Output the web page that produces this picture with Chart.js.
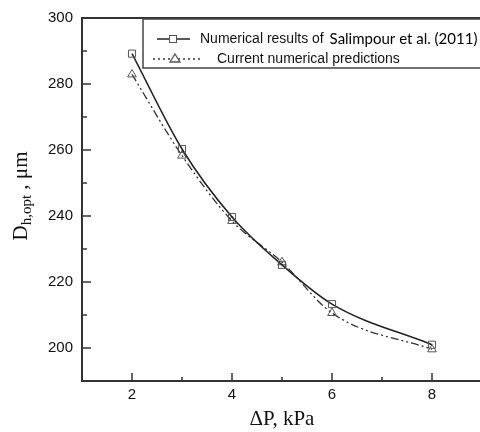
<!DOCTYPE html>
<html>
<head>
<meta charset="utf-8">
<script src="https://cdn.jsdelivr.net/npm/chart.js@4/dist/chart.umd.min.js"></script>
<style>
  html, body { margin: 0; padding: 0; background: #fff; overflow: hidden; }
  #wrap { width: 500px; height: 432px; }
</style>
</head>
<body>
<div id="wrap"><canvas id="myChart" width="500" height="432"></canvas></div>
<script>
// pressure drop, kPa
var deltaP = [2, 3, 4, 5, 6, 8];
// Salimpour et al. (2011)
var salimpour = [289.2, 260.3, 239.7, 225.2, 213.3, 201.0];
// current numerical predictions
var current = [282.9, 258.3, 238.5, 226.0, 210.6, 199.6];

var legendLabels = ['Numerical results of ', 'Salimpour et al. (2011)', 'Current numerical predictions'];
var xTitle = '\u0394P, kPa';

function toPoints(xs, ys) {
    return xs.map(function (x, i) { return { x: x, y: ys[i] }; });
}

var axisColor = '#333';
var tickFont = { family: '"Liberation Sans", Arial, sans-serif', size: 15 };

// inner ticks, top frame, legend box and axis titles
var decorations = {
    id: 'decorations',
    afterDraw: function (chart) {
        const ctx = chart.ctx;
        const area = chart.chartArea;
        const xs = chart.scales.x;
        const ys = chart.scales.y;
        ctx.save();
        ctx.strokeStyle = axisColor;
        ctx.lineWidth = 2;
        ctx.beginPath();
        ctx.moveTo(area.left, area.top);
        ctx.lineTo(area.right, area.top);
        ctx.stroke();

        ctx.lineWidth = 1.5;
        for (let v = 2; v <= 8; v++) {
            const px = xs.getPixelForValue(v);
            const len = v % 2 === 0 ? 8 : 4;
            ctx.beginPath();
            ctx.moveTo(px, area.bottom);
            ctx.lineTo(px, area.bottom - len);
            ctx.stroke();
        }
        for (let v = 200; v < 300; v += 10) {
            const py = ys.getPixelForValue(v);
            const len = v % 20 === 0 ? 9 : 5;
            ctx.beginPath();
            ctx.moveTo(area.left, py);
            ctx.lineTo(area.left + len, py);
            ctx.stroke();
        }

        // legend
        ctx.fillStyle = '#fff';
        ctx.fillRect(143, 19, 400, 49);
        ctx.strokeStyle = '#444';
        ctx.lineWidth = 1.5;
        ctx.strokeRect(143, 19, 400, 49);

        ctx.strokeStyle = '#222';
        ctx.lineWidth = 1.5;
        ctx.setLineDash([]);
        ctx.beginPath();
        ctx.moveTo(157, 39);
        ctx.lineTo(190, 39);
        ctx.stroke();
        ctx.fillStyle = '#fff';
        ctx.strokeStyle = '#555';
        ctx.lineWidth = 1;
        ctx.fillRect(169.5, 35.5, 7, 7);
        ctx.strokeRect(169.5, 35.5, 7, 7);

        ctx.strokeStyle = '#333';
        ctx.lineWidth = 1.3;
        ctx.setLineDash([2, 3]);
        ctx.beginPath();
        ctx.moveTo(153, 59);
        ctx.lineTo(200, 59);
        ctx.stroke();
        ctx.setLineDash([]);
        ctx.strokeStyle = '#555';
        ctx.fillStyle = '#fff';
        ctx.beginPath();
        ctx.moveTo(175, 54);
        ctx.lineTo(180, 62);
        ctx.lineTo(170, 62);
        ctx.closePath();
        ctx.fill();
        ctx.stroke();

        ctx.fillStyle = '#111';
        ctx.textBaseline = 'middle';
        ctx.textAlign = 'left';
        ctx.font = '14px "Liberation Sans", Arial, sans-serif';
        ctx.fillText(legendLabels[0], 200, 39);
        const w0 = ctx.measureText(legendLabels[0]).width;
        ctx.fillStyle = '#000';
        ctx.font = '15px Lato, "Open Sans", sans-serif';
        ctx.fillText(legendLabels[1], 200 + w0 + 2, 39);
        ctx.fillStyle = '#111';
        ctx.font = '14px "Liberation Sans", Arial, sans-serif';
        ctx.fillText(legendLabels[2], 217, 59);

        // x title
        ctx.font = '21px "Liberation Serif", "Times New Roman", serif';
        ctx.textAlign = 'center';
        ctx.textBaseline = 'alphabetic';
        ctx.fillText(xTitle, (area.left + area.right) / 2, 425);

        // y title with subscript
        ctx.translate(27, 196);
        ctx.rotate(-Math.PI / 2);
        const big = '21px "Liberation Serif", "Times New Roman", serif';
        const small = '15px "Liberation Serif", "Times New Roman", serif';
        ctx.font = big;
        const wD = ctx.measureText('D').width;
        ctx.font = small;
        const wSub = ctx.measureText('h,opt').width;
        ctx.font = big;
        const wRest = ctx.measureText(' , \u03bcm').width;
        let x0 = -(wD + wSub + wRest) / 2;
        ctx.textAlign = 'left';
        ctx.fillText('D', x0, 0);
        ctx.font = small;
        ctx.fillText('h,opt', x0 + wD, 4);
        ctx.font = big;
        ctx.fillText(' , \u03bcm', x0 + wD + wSub, 0);
        ctx.restore();
    }
};

const ctx = document.getElementById('myChart').getContext('2d');
new Chart(ctx, {
    type: 'line',
    data: {
        datasets: [{
            label: 'Numerical results of Salimpour et al. (2011)',
            data: toPoints(deltaP, salimpour),
            borderColor: '#222',
            borderWidth: 1.5,
            cubicInterpolationMode: 'monotone',
            pointStyle: 'rect',
            pointRadius: 5,
            pointBackgroundColor: 'rgba(255,255,255,0)',
            pointBorderColor: '#555',
            pointBorderWidth: 1
        }, {
            label: 'Current numerical predictions',
            data: toPoints(deltaP, current),
            borderColor: '#333',
            borderWidth: 1.3,
            borderDash: [8, 3, 2, 3, 2, 3],
            cubicInterpolationMode: 'monotone',
            pointStyle: 'triangle',
            pointRadius: 5,
            pointBackgroundColor: 'rgba(255,255,255,0)',
            pointBorderColor: '#555',
            pointBorderWidth: 1
        }]
    },
    options: {
        responsive: false,
        animation: false,
        layout: { padding: { top: 15, right: 18, left: 0, bottom: 0 } },
        plugins: { legend: { display: false }, tooltip: { enabled: false } },
        scales: {
            x: {
                type: 'linear',
                min: 1,
                max: 9,
                afterFit: function (s) { s.height = 51; },
                grid: { display: false, drawTicks: false },
                border: { display: true, color: axisColor, width: 2 },
                ticks: {
                    stepSize: 1,
                    padding: 5,
                    color: '#111',
                    font: tickFont,
                    callback: function (v) { return (v % 2 === 0) ? String(v) : null; }
                }
            },
            y: {
                min: 190,
                max: 300,
                afterFit: function (s) { s.width = 82; },
                grid: { display: false, drawTicks: false },
                border: { display: true, color: axisColor, width: 2 },
                ticks: {
                    stepSize: 10,
                    padding: 9,
                    color: '#111',
                    font: tickFont,
                    callback: function (v) { return (v >= 200 && v % 20 === 0) ? String(v) : null; }
                }
            }
        }
    },
    plugins: [decorations]
});
</script>
</body>
</html>
